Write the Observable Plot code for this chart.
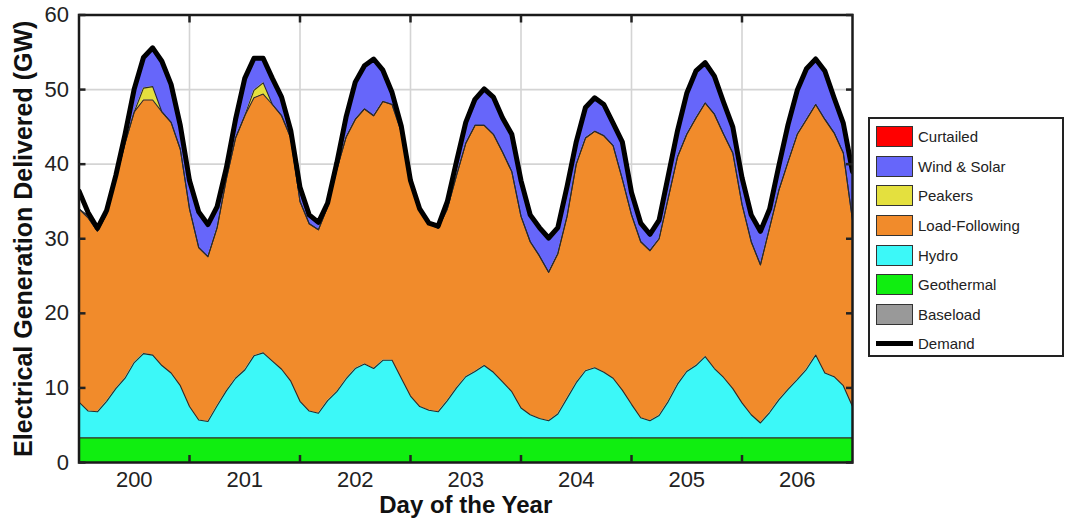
<!DOCTYPE html>
<html>
<head>
<meta charset="utf-8">
<script src="https://cdn.jsdelivr.net/npm/d3@7"></script>
<script src="https://cdn.jsdelivr.net/npm/@observablehq/plot@0.6"></script>
<style>
  html, body { margin: 0; padding: 0; background: #fff; }
  #wrap { position: relative; width: 1066px; height: 523px; font-family: "Liberation Sans", Arial, sans-serif; }
  #legend { position: absolute; left: 868px; top: 117px; width: 192px; height: 233px; border: 2.5px solid #222; background: #fff; box-sizing: content-box; padding-top: 3px; }
  .row { height: 29.6px; display: flex; align-items: center; }
  .sw { width: 37px; height: 21px; margin-left: 6px; border: 1px solid #333; box-sizing: border-box; }
  .ln { width: 37px; height: 5px; margin-left: 6px; background: #000; }
  .lab { margin-left: 5px; font-size: 15px; color: #222; }
</style>
</head>
<body>
<div id="wrap"><div id="chart"></div><div id="legend"></div></div>
<script>
// Time axis: hours from start of day 199.5, every 2 hours
const hours = d3.range(0, 169, 2);
const dayOfYear = hours.map(h => 199.5 + h / 24);

// Legend / series names and colours
const sources = ["Curtailed", "Wind & Solar", "Peakers", "Load-Following", "Hydro", "Geothermal", "Baseload"];
const sourceColors = ["#ff0000", "#6666fa", "#e4e03e", "#f18b2b", "#3cf8f8", "#10ee10", "#999999"];

// Generation by source (GW)
const geothermal = [3.3,3.3,3.3,3.3,3.3,3.3,3.3,3.3,3.3,3.3, 3.3,3.3,3.3,3.3,3.3,3.3,3.3,3.3,3.3,3.3,
  3.3,3.3,3.3,3.3,3.3,3.3,3.3,3.3,3.3,3.3, 3.3,3.3,3.3,3.3,3.3,3.3,3.3,3.3,3.3,3.3,
  3.3,3.3,3.3,3.3,3.3,3.3,3.3,3.3,3.3,3.3, 3.3,3.3,3.3,3.3,3.3,3.3,3.3,3.3,3.3,3.3,
  3.3,3.3,3.3,3.3,3.3,3.3,3.3,3.3,3.3,3.3, 3.3,3.3,3.3,3.3,3.3,3.3,3.3,3.3,3.3,3.3,
  3.3,3.3,3.3,3.3,3.3];
const hydro = [4.8,3.6,3.5,4.9,6.6,8.0,10.1,11.3,11.1,9.7, 8.7,7.0,4.2,2.4,2.2,4.3,6.3,8.0,9.1,11.0,
  11.4,10.3,9.2,7.6,4.9,3.6,3.3,5.0,6.2,7.9, 9.3,9.9,9.3,10.4,10.4,8.0,5.6,4.2,3.7,3.5,
  5.0,6.7,8.2,8.9,9.7,8.8,7.5,6.2,4.0,3.1, 2.6,2.3,3.2,5.3,7.4,9.0,9.4,8.8,8.0,6.4,
  4.5,2.7,2.3,3.0,4.9,7.2,8.9,9.7,10.9,9.3, 8.1,6.6,4.7,3.1,2.0,3.4,5.1,6.5,7.8,9.2,
  11.1,8.7,8.2,7.0,4.2];
const loadFollowing = [25.9,25.9,24.2,25.1,28.1,31.5,33.6,34.0,34.2,34.0, 33.6,31.7,26.5,23.1,22.1,23.9,28.4,32.2,34.1,34.6,
  34.7,34.4,34.0,32.6,26.8,25.1,24.6,26.0,29.8,32.4, 33.4,34.2,33.9,34.7,34.3,33.0,28.6,26.3,25.0,24.6,
  25.7,28.5,31.3,33.0,32.2,31.9,30.8,29.5,25.7,23.2, 21.8,19.9,21.5,24.4,29.3,31.2,31.7,31.7,31.2,28.3,
  25.4,23.6,22.8,23.7,27.3,30.5,31.8,33.2,34.0,34.1, 32.6,31.6,26.6,23.2,21.2,24.8,28.1,30.5,32.9,33.5,
  33.6,34.0,32.7,31.2,25.0];
const peakers = [0,0,0,0,0,0,0,1.6,1.8,0, 0,0,0,0,0,0,0,0,0,1.0,
  1.5,0,0,0,0,0,0,0,0,0, 0,0,0,0,0,0,0,0,0,0,
  0,0,0,0,0,0,0,0,0,0, 0,0,0,0,0,0,0,0,0,0,
  0,0,0,0,0,0,0,0,0,0, 0,0,0,0,0,0,0,0,0,0,
  0,0,0,0,0];
const windSolar = [0,0.3,0.4,0.5,0.5,1.2,3.1,4.1,5.2,6.8, 5.1,3.2,3.8,4.8,4.3,2.8,1.5,2.5,5.0,4.3,
  3.3,3.5,2.5,1.0,1.9,1.2,1.0,0.5,0.9,2.7, 5.0,5.8,7.6,4.2,1.6,0.8,0.3,0.2,0.1,0.3,
  1.0,1.9,2.8,3.5,4.9,5.0,4.6,5.0,4.8,3.6, 3.8,4.6,3.5,4.0,3.0,4.1,4.5,4.2,3.0,5.0,
  3.0,2.5,2.2,2.5,3.0,3.5,5.5,6.3,5.4,5.1, 4.3,3.5,3.6,3.6,4.5,2.5,3.3,5.0,5.9,6.8,
  6.1,6.5,4.7,4.0,6.5];
const demand = [36.4,33.5,31.4,33.8,38.5,44.0,50.1,54.3,55.6,53.8, 50.7,45.2,37.8,33.6,31.9,34.3,39.5,46.0,51.5,54.2,
  54.2,51.5,49.0,44.5,36.9,33.2,32.2,34.8,40.2,46.3, 51.0,53.2,54.1,52.6,49.6,45.1,37.8,34.0,32.1,31.7,
  35.0,40.4,45.6,48.7,50.1,49.0,46.2,44.0,37.8,33.2, 31.5,30.1,31.5,37.0,43.0,47.6,48.9,48.0,45.5,43.0,
  36.2,32.1,30.6,32.5,38.5,44.5,49.5,52.5,53.6,51.8, 48.3,45.0,38.2,33.2,31.0,34.0,39.8,45.3,49.9,52.8,
  54.1,52.5,48.9,45.5,39.0];

// Axis ticks
const dayLabels = [200, 201, 202, 203, 204, 205, 206];
const dayBoundaries = [200.5, 201.5, 202.5, 203.5, 204.5, 205.5];
const yTicks = [0, 10, 20, 30, 40, 50, 60];

// Long table for stacking (bottom to top)
const stackSeries = [
  ["Geothermal", geothermal],
  ["Hydro", hydro],
  ["Load-Following", loadFollowing],
  ["Peakers", peakers],
  ["Wind & Solar", windSolar]
];
const table = [];
for (const [name, vals] of stackSeries) {
  vals.forEach((v, i) => table.push({day: dayOfYear[i], source: name, value: v}));
}
const demandRows = demand.map((v, i) => ({day: dayOfYear[i], value: v}));

const tickOpts = {tickSize: -7, strokeWidth: 2.5, tickFormat: () => "", label: null};

const chart = Plot.plot({
  width: 1066,
  height: 523,
  marginLeft: 78.5,
  marginRight: 214,
  marginTop: 14.5,
  marginBottom: 61,
  style: {fontFamily: "'Liberation Sans', Arial, sans-serif", background: "#fff", color: "#222"},
  x: {domain: [199.5, 206.5], label: null},
  y: {domain: [0, 60], label: null},
  color: {domain: sources, range: sourceColors},
  marks: [
    Plot.gridX(dayBoundaries, {stroke: "#d4d4d4", strokeOpacity: 1, strokeWidth: 1.6}),
    Plot.gridY([10, 20, 30, 40, 50], {stroke: "#d4d4d4", strokeOpacity: 1, strokeWidth: 1.6}),
    Plot.areaY(table, {x: "day", y: "value", z: "source", fill: "source", curve: "linear", clip: true}),
    Plot.lineY(table, Plot.stackY2({x: "day", y: "value", z: "source", stroke: "#2a2a2a", strokeWidth: 1.1, curve: "linear", clip: true})),
    Plot.lineY(demandRows, {x: "day", y: "value", stroke: "#000", strokeWidth: 5, strokeLinejoin: "round", clip: true}),
    Plot.frame({stroke: "#1a1a1a", strokeWidth: 2.5}),
    // inward tick marks
    Plot.axisX(dayBoundaries, {anchor: "bottom", ...tickOpts}),
    Plot.axisX(dayBoundaries, {anchor: "top", ...tickOpts}),
    Plot.axisY(yTicks, {anchor: "left", ...tickOpts}),
    Plot.axisY(yTicks, {anchor: "right", ...tickOpts}),
    // labels
    Plot.axisX(dayLabels, {anchor: "bottom", tickSize: 0, tickPadding: 9, fontSize: 22, label: null, tickFormat: d => String(d)}),
    Plot.axisY(yTicks, {anchor: "left", tickSize: 0, tickPadding: 10, fontSize: 22, label: null}),
    Plot.text(["Day of the Year"], {frameAnchor: "bottom", dy: 50, fontSize: 24, fontWeight: "bold", fill: "#111"}),
    Plot.text(["Electrical Generation Delivered (GW)"], {frameAnchor: "left", textAnchor: "middle", lineAnchor: "middle", dx: -55, rotate: -90, fontSize: 25, fontWeight: "bold", fill: "#111"})
  ]
});
document.getElementById("chart").appendChild(chart);

// Legend
const legend = document.getElementById("legend");
sources.forEach((s, i) => {
  const row = document.createElement("div");
  row.className = "row";
  row.innerHTML = `<div class="sw" style="background:${sourceColors[i]}"></div><span class="lab">${s}</span>`;
  legend.appendChild(row);
});
const drow = document.createElement("div");
drow.className = "row";
drow.innerHTML = `<div class="ln"></div><span class="lab">Demand</span>`;
legend.appendChild(drow);
</script>
</body>
</html>
